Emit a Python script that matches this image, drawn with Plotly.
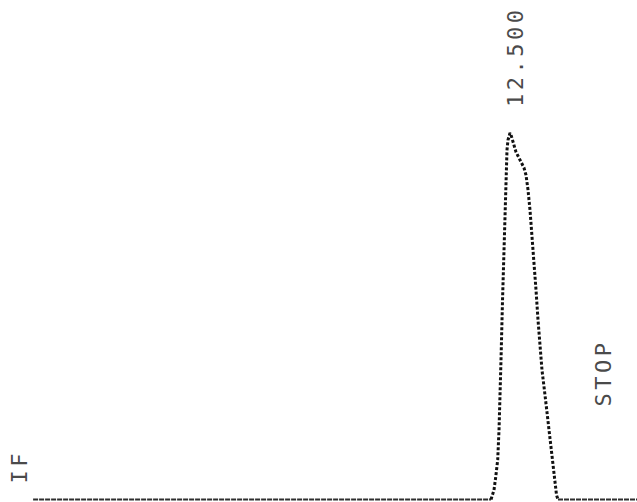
import plotly.graph_objects as go

# Detector trace: retention time (min) and signal (% of apex height)
time_min = [-0.05, 6.0, 12.00, 12.026, 12.079, 12.124, 12.176, 12.211, 12.237, 12.263,
            12.303, 12.342, 12.368, 12.395, 12.421, 12.447, 12.474, 12.500,
            12.526, 12.579, 12.658, 12.737, 12.816, 12.868, 12.921, 12.974,
            13.026, 13.079, 13.132, 13.184, 13.237, 13.289, 13.342, 13.421,
            13.500, 13.579, 13.632, 13.684, 13.724, 13.763, 14.8, 15.85]
signal = [0.0, 0.0, 0.0, 0.7, 2.6, 6.1, 10.8, 19.0, 27.2, 38.1,
          54.4, 68.1, 81.7, 89.9, 95.4, 98.1, 99.5, 100.0,
          99.5, 97.5, 94.8, 93.2, 91.8, 90.5, 88.5, 84.5,
          79.0, 72.2, 65.4, 57.2, 49.0, 42.2, 35.3, 28.5,
          21.7, 14.9, 10.2, 5.3, 1.2, 0.0, 0.0, 0.0]

peak_time = 12.5      # apex retention time
stop_time = 15.0      # end of run
event_label = "IF"

# split the trace into leading baseline, peak, trailing baseline
nz = [i for i, v in enumerate(signal) if v > 0]
i0, i1 = nz[0] - 1, nz[-1] + 1

fig = go.Figure()
base_style = dict(color="#2e2e2e", width=1.8, dash="5px,1px")
fig.add_trace(go.Scatter(x=time_min[:i0 + 1], y=signal[:i0 + 1], mode="lines",
                         line=base_style, hoverinfo="skip", showlegend=False))
fig.add_trace(go.Scatter(x=time_min[i1:], y=signal[i1:], mode="lines",
                         line=base_style, hoverinfo="skip", showlegend=False))
fig.add_trace(go.Scatter(x=time_min[i0:i1 + 1], y=signal[i0:i1 + 1], mode="lines",
                         line=dict(color="#111111", width=3, dash="3px,2px"),
                         showlegend=False))

label_font = dict(family="DejaVu Sans Mono", size=22, color="#4a4a4a")
spaced = '<span style="letter-spacing:3.5px">{}</span>'

apex_signal = max(signal)
fig.add_annotation(x=peak_time + 0.13, y=apex_signal + 20.7, xref="x", yref="y",
                   text=spaced.format(f"{peak_time:.3f}"), textangle=-90,
                   showarrow=False, font=label_font,
                   xanchor="center", yanchor="middle")
fig.add_annotation(x=stop_time - 0.04, y=34.5, xref="x", yref="y",
                   text=spaced.format("STOP"), textangle=-90,
                   showarrow=False, font=label_font,
                   xanchor="center", yanchor="middle")
fig.add_annotation(x=-0.41, y=9.1, xref="x", yref="y",
                   text=spaced.format(event_label), textangle=-90,
                   showarrow=False, font=label_font,
                   xanchor="center", yanchor="middle")

fig.update_xaxes(range=[-0.921, 15.842], visible=False, fixedrange=True)
fig.update_yaxes(range=[-0.68, 136.29], visible=False, fixedrange=True)
fig.update_layout(width=637, height=502, margin=dict(l=0, r=0, t=0, b=0),
                  paper_bgcolor="white", plot_bgcolor="white")

fig.write_html("out.html")
